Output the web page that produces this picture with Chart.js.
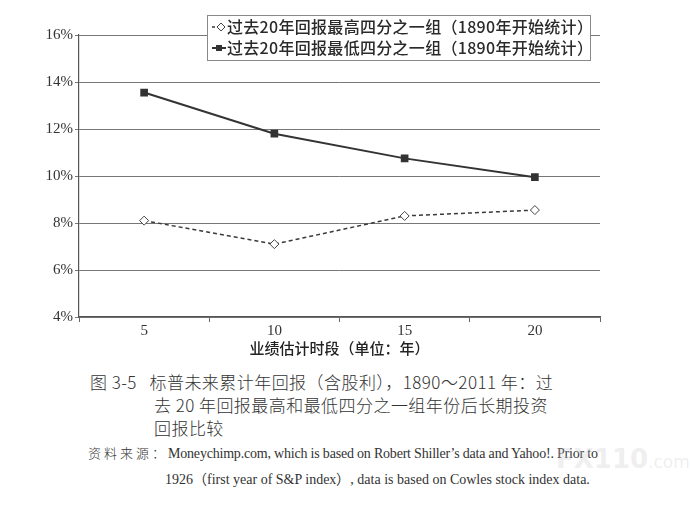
<!DOCTYPE html>
<html lang="zh-CN">
<head>
<meta charset="UTF-8">
<title>标普未来累计年回报</title>
<script src="https://cdn.jsdelivr.net/npm/chart.js"></script>
<style>
    html, body { margin: 0; padding: 0; background: #fff; }
    body { width: 690px; height: 506px; position: relative; overflow: hidden; }
    #box { position: absolute; left: 0; top: 0; width: 690px; height: 362px; }
    .cap { position: absolute; font-family: "Noto Sans CJK SC", sans-serif; font-weight: 300;
           font-size: 17px; color: #333; white-space: nowrap; line-height: 23px; letter-spacing: 0.45px; }
    .src { position: absolute; font-family: "Liberation Serif", serif; font-size: 14px;
           color: #333; white-space: nowrap; letter-spacing: -0.2px; }
    .src .zh { font-family: "Noto Sans CJK SC", sans-serif; font-weight: 300; font-size: 13px; letter-spacing: 3px; }
    .wm { position: absolute; left: 556px; top: 444px; font-family: "DejaVu Sans", sans-serif;
          font-weight: bold; font-size: 26px; color: rgba(200,200,200,0.3); }
    .wm span { font-weight: normal; font-size: 17px; }
</style>
</head>
<body>
<div id="box"><canvas id="chart" width="690" height="362"></canvas></div>

<div class="cap" style="left:90px; top:370px;">图 3-5&nbsp;&nbsp;&nbsp;标普未来累计年回报（含股利），1890～2011 年：过</div>
<div class="cap" style="left:154px; top:393px;">去 20 年回报最高和最低四分之一组年份后长期投资</div>
<div class="cap" style="left:154px; top:416px;">回报比较</div>
<div class="src" style="left:88px; top:443px;"><span class="zh">资料来源：</span>Moneychimp.com, which is based on Robert Shiller’s data and Yahoo!. Prior to</div>
<div class="src" style="left:165px; top:468px; letter-spacing: 0px;">1926（first year of S&amp;P index）, data is based on Cowles stock index data.</div>
<div class="wm">FX110<span>.com</span></div>

<script>
// 业绩估计时段（年）
const periods = ['5', '10', '15', '20'];
// 过去20年回报最高四分之一组
const highQuartile = [8.1, 7.1, 8.3, 8.55];
// 过去20年回报最低四分之一组
const lowQuartile = [13.55, 11.8, 10.75, 9.95];
const seriesNames = [
    '过去20年回报最高四分之一组（1890年开始统计）',
    '过去20年回报最低四分之一组（1890年开始统计）'
];
const yMin = 4, yMax = 16, yStep = 2;

// 图例画在图表上方，盖住16%网格线
const boxLegend = {
    id: 'boxLegend',
    afterDraw(chart) {
        const ctx = chart.ctx;
        const x = 207, y = 15, w = 383, h = 45;
        ctx.save();
        ctx.fillStyle = '#fff';
        ctx.fillRect(x, y, w, h);
        ctx.strokeStyle = '#888';
        ctx.lineWidth = 1;
        ctx.strokeRect(x + 0.5, y + 0.5, w, h);
        ctx.font = '500 16px "Noto Sans CJK SC"';
        ctx.letterSpacing = '0.3px';
        ctx.textBaseline = 'middle';
        chart.data.datasets.forEach((ds, i) => {
            const ly = y + 12 + i * 21;
            ctx.strokeStyle = ds.borderColor;
            ctx.lineWidth = ds.borderWidth;
            ctx.setLineDash([]);
            ctx.beginPath();
            ctx.moveTo(x + 5, ly);
            ctx.lineTo(x + (i === 0 ? 8 : 19), ly);
            ctx.stroke();
            ctx.lineWidth = 1;
            ctx.fillStyle = ds.pointBackgroundColor;
            ctx.strokeStyle = ds.pointBorderColor;
            if (ds.pointStyle === 'rectRot') {
                ctx.beginPath();
                ctx.moveTo(x + 14, ly - 4);
                ctx.lineTo(x + 18, ly);
                ctx.lineTo(x + 14, ly + 4);
                ctx.lineTo(x + 10, ly);
                ctx.closePath();
                ctx.fill();
                ctx.stroke();
            } else {
                ctx.fillRect(x + 9, ly - 3, 6, 6);
            }
            ctx.fillStyle = '#2a2a2a';
            ctx.fillText(ds.label, x + 20, ly);
        });
        ctx.restore();
    }
};

new Chart(document.getElementById('chart'), {
    type: 'line',
    data: {
        labels: periods,
        datasets: [{
            label: seriesNames[0],
            data: highQuartile,
            borderColor: '#3a3a3a',
            borderWidth: 1.5,
            borderDash: [4, 3],
            pointStyle: 'rectRot',
            pointRadius: 4.5,
            pointBackgroundColor: '#fff',
            pointBorderColor: '#444',
            pointBorderWidth: 1,
            tension: 0
        }, {
            label: seriesNames[1],
            data: lowQuartile,
            borderColor: '#333',
            borderWidth: 2,
            pointStyle: 'rect',
            pointRadius: 4,
            pointBackgroundColor: '#333',
            pointBorderColor: '#333',
            tension: 0
        }]
    },
    options: {
        responsive: false,
        animation: false,
        layout: { padding: { top: 35, right: 90, left: 0, bottom: 0 } },
        plugins: { legend: { display: false }, tooltip: { enabled: false } },
        scales: {
            x: {
                offset: true,
                afterFit: s => { s.height = 45; },
                grid: { offset: true, drawOnChartArea: false, tickLength: 5, color: '#666' },
                border: { color: '#555', width: 1.2 },
                ticks: { padding: 0, color: '#333', font: { family: 'Liberation Serif', size: 15 } },
                title: {
                    display: true,
                    text: '业绩估计时段（单位：年）',
                    color: '#222',
                    padding: { top: 0, bottom: 5 },
                    font: { family: 'Noto Sans CJK SC', size: 15, weight: '500' }
                }
            },
            y: {
                min: yMin,
                max: yMax,
                afterFit: s => { s.width = 79; },
                grid: { color: '#777', tickLength: 4, lineWidth: 1 },
                border: { color: '#555', width: 1.2 },
                ticks: {
                    stepSize: yStep,
                    padding: 2,
                    color: '#333',
                    font: { family: 'Liberation Serif', size: 15 },
                    callback: v => v + '%'
                }
            }
        }
    },
    plugins: [boxLegend]
});
</script>
</body>
</html>
